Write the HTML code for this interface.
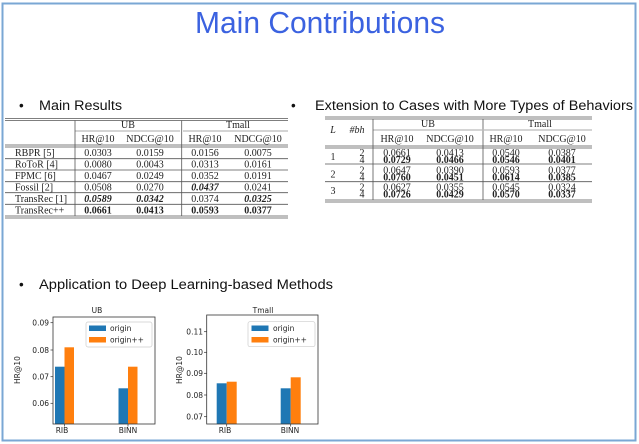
<!DOCTYPE html>
<html><head><meta charset="utf-8"><style>
html,body{margin:0;padding:0;background:#fff;}
svg{display:block;}
.s{font-family:"Liberation Serif",serif;font-size:10px;fill:#222;}
.b{font-weight:bold;}
.i{font-style:italic;}
.h{font-family:"Liberation Sans",sans-serif;font-size:13.5px;fill:#111;}
.c{font-family:"DejaVu Sans","Liberation Sans",sans-serif;font-size:7.5px;fill:#222;}
</style></head><body>
<svg width="639" height="444" viewBox="0 0 639 444" xmlns="http://www.w3.org/2000/svg">
<rect x="2.5" y="3.5" width="633" height="437" fill="#fff" stroke="#7aa7d4" stroke-width="2"/>
<text x="320" y="33" text-anchor="middle" font-family="Liberation Sans,sans-serif" font-size="31" fill="#3b62e0" textLength="250" lengthAdjust="spacingAndGlyphs">Main Contributions</text>

<!-- Headings -->
<text x="19" y="110" class="h">•</text>
<text x="39" y="110" class="h" textLength="83" lengthAdjust="spacingAndGlyphs">Main Results</text>
<text x="291" y="110" class="h">•</text>
<text x="315" y="110" class="h" textLength="318" lengthAdjust="spacingAndGlyphs">Extension to Cases with More Types of Behaviors</text>
<text x="19" y="289" class="h">•</text>
<text x="39" y="289" class="h" textLength="294" lengthAdjust="spacingAndGlyphs">Application to Deep Learning-based Methods</text>

<!-- Table 1 -->
<g stroke="#555" stroke-width="0.8" fill="none">
<line x1="5" y1="118.5" x2="288" y2="118.5"/><line x1="5" y1="120.5" x2="288" y2="120.5"/>
<line x1="75" y1="131" x2="180" y2="131" stroke-width="0.5"/><line x1="183" y1="131" x2="288" y2="131" stroke-width="0.5"/>
<line x1="5" y1="145" x2="288" y2="145"/><line x1="5" y1="147" x2="288" y2="147"/>
<line x1="5" y1="158.7" x2="288" y2="158.7"/>
<line x1="5" y1="170" x2="288" y2="170"/>
<line x1="5" y1="181.7" x2="288" y2="181.7"/>
<line x1="5" y1="192.7" x2="288" y2="192.7"/>
<line x1="5" y1="204.3" x2="288" y2="204.3"/>
<line x1="5" y1="216" x2="288" y2="216"/><line x1="5" y1="218" x2="288" y2="218"/>
<line x1="75" y1="120.5" x2="75" y2="216"/>
<line x1="181.7" y1="120.5" x2="181.7" y2="216"/>
</g>
<g class="s" text-anchor="middle">
<text x="128" y="128">UB</text><text x="238" y="128">Tmall</text>
<text x="98" y="142">HR@10</text><text x="150" y="142">NDCG@10</text><text x="205" y="142">HR@10</text><text x="258" y="142">NDCG@10</text>
<text x="98" y="156">0.0303</text><text x="150" y="156">0.0159</text><text x="205" y="156">0.0156</text><text x="258" y="156">0.0075</text>
<text x="98" y="167.5">0.0080</text><text x="150" y="167.5">0.0043</text><text x="205" y="167.5">0.0313</text><text x="258" y="167.5">0.0161</text>
<text x="98" y="179">0.0467</text><text x="150" y="179">0.0249</text><text x="205" y="179">0.0352</text><text x="258" y="179">0.0191</text>
<text x="98" y="190.5">0.0508</text><text x="150" y="190.5">0.0270</text><text x="205" y="190.5" class="b i">0.0437</text><text x="258" y="190.5">0.0241</text>
<text x="98" y="202" class="b i">0.0589</text><text x="150" y="202" class="b i">0.0342</text><text x="205" y="202">0.0374</text><text x="258" y="202" class="b i">0.0325</text>
<text x="98" y="213.5" class="b">0.0661</text><text x="150" y="213.5" class="b">0.0413</text><text x="205" y="213.5" class="b">0.0593</text><text x="258" y="213.5" class="b">0.0377</text>
</g>
<g class="s">
<text x="15" y="156">RBPR [5]</text><text x="15" y="167.5">RoToR [4]</text><text x="15" y="179">FPMC [6]</text>
<text x="15" y="190.5">Fossil [2]</text><text x="15" y="202">TransRec [1]</text><text x="15" y="213.5">TransRec++</text>
</g>

<!-- Table 2 -->
<g stroke="#555" stroke-width="0.8" fill="none">
<line x1="325" y1="117" x2="592" y2="117"/><line x1="325" y1="119" x2="592" y2="119"/>
<line x1="373" y1="130" x2="482" y2="130" stroke-width="0.5"/><line x1="484" y1="130" x2="592" y2="130" stroke-width="0.5"/>
<line x1="325" y1="146" x2="592" y2="146"/><line x1="325" y1="148" x2="592" y2="148"/>
<line x1="325" y1="164" x2="592" y2="164"/>
<line x1="325" y1="181.7" x2="592" y2="181.7"/>
<line x1="325" y1="200" x2="592" y2="200"/><line x1="325" y1="202" x2="592" y2="202"/>
<line x1="373" y1="119" x2="373" y2="200"/>
<line x1="483" y1="119" x2="483" y2="200"/>
</g>
<g class="s" text-anchor="middle">
<text x="333" y="133" class="i">L</text><text x="357" y="133" class="i">#bh</text>
<text x="428" y="127">UB</text><text x="540" y="127">Tmall</text>
<text x="397" y="142">HR@10</text><text x="450" y="142">NDCG@10</text><text x="506" y="142">HR@10</text><text x="562" y="142">NDCG@10</text>
<text x="333" y="160">1</text><text x="333" y="177.5">2</text><text x="333" y="194">3</text>
<text x="362" y="156">2</text><text x="362" y="163">4</text>
<text x="362" y="173.5">2</text><text x="362" y="180.5">4</text>
<text x="362" y="190.5">2</text><text x="362" y="197.5">4</text>
<text x="397" y="156">0.0661</text><text x="450" y="156">0.0413</text><text x="506" y="156">0.0540</text><text x="562" y="156">0.0387</text>
<text x="397" y="163" class="b">0.0729</text><text x="450" y="163" class="b">0.0466</text><text x="506" y="163" class="b">0.0546</text><text x="562" y="163" class="b">0.0401</text>
<text x="397" y="173.5">0.0647</text><text x="450" y="173.5">0.0390</text><text x="506" y="173.5">0.0593</text><text x="562" y="173.5">0.0377</text>
<text x="397" y="180.5" class="b">0.0760</text><text x="450" y="180.5" class="b">0.0451</text><text x="506" y="180.5" class="b">0.0614</text><text x="562" y="180.5" class="b">0.0385</text>
<text x="397" y="190.5">0.0627</text><text x="450" y="190.5">0.0355</text><text x="506" y="190.5">0.0545</text><text x="562" y="190.5">0.0324</text>
<text x="397" y="197.5" class="b">0.0726</text><text x="450" y="197.5" class="b">0.0429</text><text x="506" y="197.5" class="b">0.0570</text><text x="562" y="197.5" class="b">0.0337</text>
</g>

<!-- Chart 1 -->
<text x="97" y="313" class="c" text-anchor="middle">UB</text>
<rect x="55" y="366.7" width="9.5" height="57.3" fill="#1f77b4"/>
<rect x="64.5" y="347.3" width="9.5" height="76.7" fill="#ff7f0e"/>
<rect x="118.5" y="388.3" width="9.5" height="35.7" fill="#1f77b4"/>
<rect x="128" y="366.7" width="9.5" height="57.3" fill="#ff7f0e"/>
<rect x="53" y="317" width="102" height="107" fill="none" stroke="#333" stroke-width="0.8"/>
<g stroke="#333" stroke-width="0.7">
<line x1="50.5" y1="322.7" x2="53" y2="322.7"/><line x1="50.5" y1="350" x2="53" y2="350"/>
<line x1="50.5" y1="376.7" x2="53" y2="376.7"/><line x1="50.5" y1="403.3" x2="53" y2="403.3"/>
<line x1="64.5" y1="424" x2="64.5" y2="426.5"/><line x1="128" y1="424" x2="128" y2="426.5"/>
</g>
<g class="c" text-anchor="end">
<text x="49" y="325.5">0.09</text><text x="49" y="352.8">0.08</text><text x="49" y="379.5">0.07</text><text x="49" y="406">0.06</text>
</g>
<g class="c" text-anchor="middle">
<text x="62" y="433">RIB</text><text x="128" y="433">BINN</text>
<text transform="translate(20,370) rotate(-90)">HR@10</text>
</g>
<rect x="86" y="322" width="66" height="25" fill="#fff" stroke="#ccc" stroke-width="0.7" rx="2"/>
<rect x="89" y="325.5" width="17" height="5.5" fill="#1f77b4"/>
<rect x="89" y="337" width="17" height="5.5" fill="#ff7f0e"/>
<text x="110" y="331" class="c">origin</text>
<text x="110" y="342.5" class="c">origin++</text>

<!-- Chart 2 -->
<text x="263" y="313" class="c" text-anchor="middle">Tmall</text>
<rect x="216.7" y="383.3" width="10" height="40.7" fill="#1f77b4"/>
<rect x="226.7" y="381.7" width="10" height="42.3" fill="#ff7f0e"/>
<rect x="280.7" y="388.3" width="10" height="35.7" fill="#1f77b4"/>
<rect x="290.7" y="377.3" width="10" height="46.7" fill="#ff7f0e"/>
<rect x="206.7" y="315" width="111.3" height="109" fill="none" stroke="#333" stroke-width="0.8"/>
<g stroke="#333" stroke-width="0.7">
<line x1="204" y1="331.7" x2="206.7" y2="331.7"/><line x1="204" y1="352.3" x2="206.7" y2="352.3"/>
<line x1="204" y1="373.3" x2="206.7" y2="373.3"/><line x1="204" y1="395" x2="206.7" y2="395"/>
<line x1="204" y1="416.7" x2="206.7" y2="416.7"/>
<line x1="226.7" y1="424" x2="226.7" y2="426.5"/><line x1="290.7" y1="424" x2="290.7" y2="426.5"/>
</g>
<g class="c" text-anchor="end">
<text x="203" y="334.5">0.11</text><text x="203" y="355">0.10</text><text x="203" y="376">0.09</text><text x="203" y="397.8">0.08</text><text x="203" y="419.5">0.07</text>
</g>
<g class="c" text-anchor="middle">
<text x="225" y="433">RIB</text><text x="290" y="433">BINN</text>
<text transform="translate(182,370) rotate(-90)">HR@10</text>
</g>
<rect x="248" y="321.7" width="67" height="25" fill="#fff" stroke="#ccc" stroke-width="0.7" rx="2"/>
<rect x="251.5" y="325.5" width="17" height="5.5" fill="#1f77b4"/>
<rect x="251.5" y="337" width="17" height="5.5" fill="#ff7f0e"/>
<text x="273" y="331" class="c">origin</text>
<text x="273" y="342.5" class="c">origin++</text>
</svg>
</body></html>
